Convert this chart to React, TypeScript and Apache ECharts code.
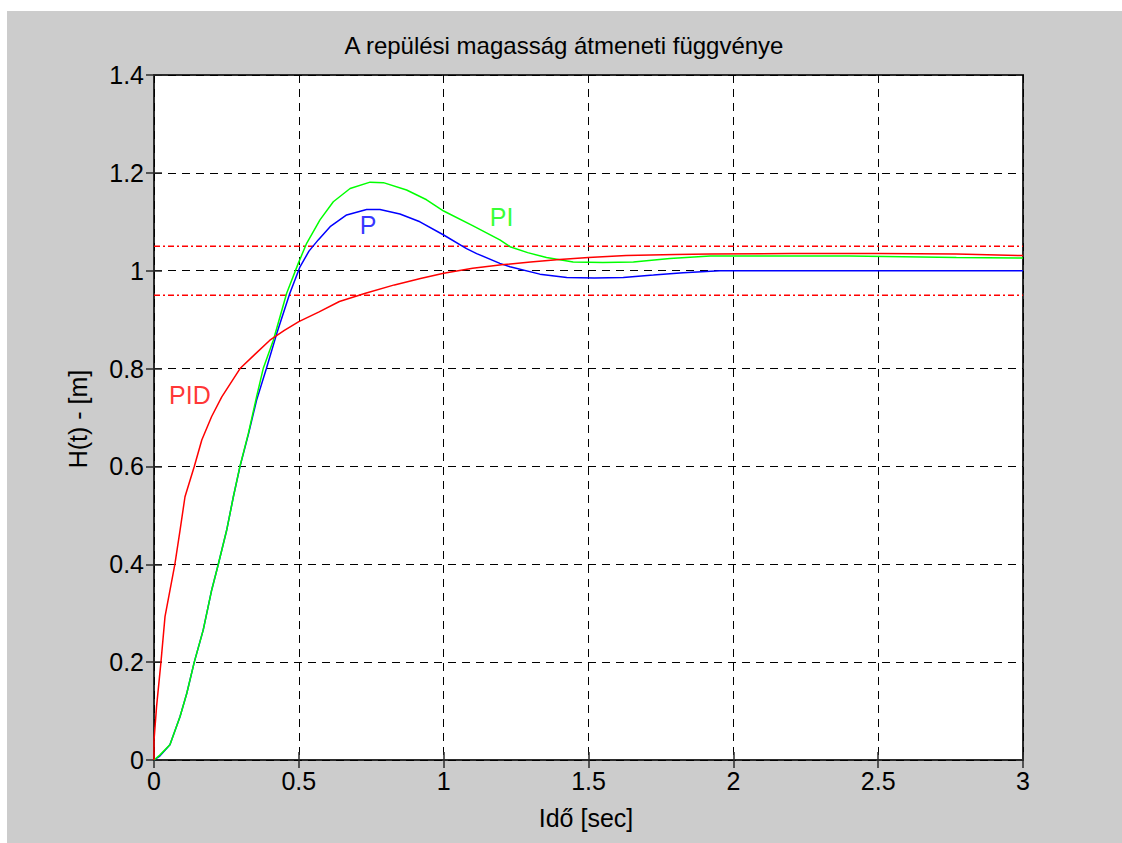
import React, { useEffect, useRef } from "react";
import * as echarts from "echarts";

// Time axis ticks and value axis ticks
const xTicks = [0, 0.5, 1, 1.5, 2, 2.5, 3];
const yTicks = [0, 0.2, 0.4, 0.6, 0.8, 1, 1.2, 1.4];

// P controller step response
const tP = [0, 0.02, 0.055, 0.09, 0.113, 0.139, 0.17, 0.199, 0.222, 0.251, 0.274, 0.297, 0.326, 0.354, 0.388, 0.424, 0.469, 0.504, 0.535, 0.567, 0.608, 0.665, 0.734, 0.78, 0.849, 0.918, 1.0, 1.079, 1.114, 1.194, 1.229, 1.332, 1.425, 1.52, 1.62, 1.724, 1.827, 1.954, 2.1, 2.5, 3.0];
const hP = [0, 0.008, 0.031, 0.089, 0.136, 0.2, 0.266, 0.347, 0.4, 0.47, 0.538, 0.6, 0.666, 0.735, 0.8, 0.872, 0.954, 1.008, 1.04, 1.063, 1.09, 1.114, 1.125, 1.125, 1.116, 1.1, 1.073, 1.045, 1.035, 1.015, 1.008, 0.993, 0.986, 0.985, 0.986, 0.991, 0.996, 1.0, 1.0, 1.0, 1.0];

// PI controller step response
const tPI = [0, 0.02, 0.055, 0.09, 0.113, 0.139, 0.17, 0.199, 0.222, 0.251, 0.274, 0.297, 0.326, 0.354, 0.377, 0.412, 0.458, 0.498, 0.527, 0.573, 0.619, 0.677, 0.746, 0.792, 0.872, 0.941, 1.0, 1.1, 1.194, 1.229, 1.29, 1.355, 1.447, 1.55, 1.655, 1.781, 1.92, 2.046, 2.4, 2.77, 3.0];
const hPI = [0, 0.01, 0.031, 0.089, 0.136, 0.2, 0.266, 0.347, 0.4, 0.47, 0.538, 0.601, 0.668, 0.742, 0.8, 0.858, 0.954, 1.015, 1.056, 1.104, 1.141, 1.168, 1.181, 1.18, 1.165, 1.145, 1.122, 1.092, 1.063, 1.049, 1.037, 1.027, 1.018, 1.017, 1.018, 1.025, 1.03, 1.03, 1.03, 1.027, 1.026];

// PID controller step response
const tPID = [0, 0, 0.009, 0.024, 0.038, 0.072, 0.09, 0.107, 0.139, 0.165, 0.199, 0.234, 0.297, 0.35, 0.4, 0.45, 0.5, 0.57, 0.64, 0.73, 0.83, 0.92, 1.0, 1.1, 1.2, 1.3, 1.4, 1.5, 1.63, 1.8, 1.92, 2.2, 2.5, 2.77, 3.0];
const hPID = [0, 0.04, 0.11, 0.2, 0.293, 0.4, 0.47, 0.538, 0.6, 0.654, 0.702, 0.742, 0.8, 0.83, 0.858, 0.878, 0.896, 0.916, 0.937, 0.954, 0.971, 0.984, 0.995, 1.005, 1.012, 1.018, 1.023, 1.027, 1.031, 1.033, 1.034, 1.035, 1.035, 1.034, 1.031];

// ±5% tolerance band
const bandLevels = [1.05, 0.95];

// Curve labels: [name, t, h]
const curveLabels: [string, number, number][] = [
  ["P", 0.739, 1.093],
  ["PI", 1.2, 1.11],
  ["PID", 0.124, 0.746],
];

const FONT = "'Liberation Sans', Arial, sans-serif";

function zip(t: number[], h: number[]) {
  return t.map((v, i) => [v, h[i]]);
}

export default function App() {
  const ref = useRef<HTMLDivElement>(null);
  useEffect(() => {
    if (!ref.current) return;
    const chart = echarts.init(ref.current, undefined, { renderer: "svg" });
    const labelColor: Record<string, string> = { P: "#0000ff", PI: "#00ff00", PID: "#ff0000" };
    const lineSeries = (name: string, data: number[][], color: string) => ({
      type: "line",
      name,
      data,
      showSymbol: false,
      symbol: "none",
      lineStyle: { color, width: 1.5 },
      z: 3,
    });
    const tick = { show: true, inside: true, length: 8, lineStyle: { color: "#2b2b2b", width: 1.5 } };
    const option: any = {
      animation: false,
      backgroundColor: "#cccccc",
      grid: {
        left: 147,
        top: 64,
        width: 869,
        height: 685,
        show: true,
        backgroundColor: "#ffffff",
        borderColor: "#2b2b2b",
        borderWidth: 2,
      },
      xAxis: [
        {
          type: "value",
          min: 0,
          max: 3,
          interval: 0.5,
          axisLine: { show: false },
          axisTick: tick,
          axisLabel: {
            color: "#000",
            fontFamily: FONT,
            fontSize: 25,
            margin: 8,
            formatter: (v: number) => String(xTicks.find((x) => Math.abs(x - v) < 1e-9) ?? v),
          },
          splitLine: { show: true, lineStyle: { color: "#000", width: 1, type: [8, 6] } },
        },
        {
          type: "value",
          position: "top",
          min: 0,
          max: 3,
          interval: 0.5,
          axisLine: { show: false },
          axisTick: tick,
          axisLabel: { show: false },
          splitLine: { show: false },
        },
      ],
      yAxis: [
        {
          type: "value",
          min: 0,
          max: 1.4,
          interval: 0.2,
          axisLine: { show: false },
          axisTick: tick,
          axisLabel: {
            color: "#000",
            fontFamily: FONT,
            fontSize: 25,
            margin: 10,
            formatter: (v: number) => String(yTicks.find((y) => Math.abs(y - v) < 1e-9) ?? v),
          },
          splitLine: { show: true, lineStyle: { color: "#000", width: 1, type: [8, 6] } },
        },
        {
          type: "value",
          position: "right",
          min: 0,
          max: 1.4,
          interval: 0.2,
          axisLine: { show: false },
          axisTick: tick,
          axisLabel: { show: false },
          splitLine: { show: false },
        },
      ],
      graphic: [
        {
          type: "text",
          x: 557,
          y: 34,
          style: {
            text: "A repülési magasság átmeneti függvénye",
            font: `24px ${FONT}`,
            fill: "#000",
            textAlign: "center",
            textVerticalAlign: "middle",
          },
        },
        {
          type: "text",
          x: 579,
          y: 807,
          style: {
            text: "Idő [sec]",
            font: `25px ${FONT}`,
            fill: "#000",
            textAlign: "center",
            textVerticalAlign: "middle",
          },
        },
        {
          type: "text",
          x: 71,
          y: 408,
          rotation: Math.PI / 2,
          style: {
            text: "H(t) - [m]",
            font: `25px ${FONT}`,
            fill: "#000",
            textAlign: "center",
            textVerticalAlign: "middle",
          },
        },
      ],
      series: [
        ...bandLevels.map((lvl, i) => ({
          type: "line",
          name: "band" + i,
          data: [
            [0, lvl],
            [3, lvl],
          ],
          showSymbol: false,
          symbol: "none",
          lineStyle: { color: "#ff0000", width: 1.5, type: [6, 3, 2, 3] },
          z: 2,
        })),
        lineSeries("P", zip(tP, hP), "#0000ff"),
        lineSeries("PI", zip(tPI, hPI), "#00ff00"),
        lineSeries("PID", zip(tPID, hPID), "#ff0000"),
        {
          type: "scatter",
          name: "labels",
          data: curveLabels.map(([n, t, h]) => ({
            value: [t, h],
            label: {
              show: true,
              position: "inside",
              formatter: n,
              color: labelColor[n],
              fontFamily: FONT,
              fontSize: 25,
            },
          })),
          symbolSize: 1,
          itemStyle: { color: "rgba(0,0,0,0)" },
          silent: true,
          z: 4,
        },
      ],
    };
    chart.setOption(option);
    return () => chart.dispose();
  }, []);
  return (
    <div
      ref={ref}
      style={{ position: "absolute", left: 7, top: 11, width: 1115, height: 832 }}
    />
  );
}
